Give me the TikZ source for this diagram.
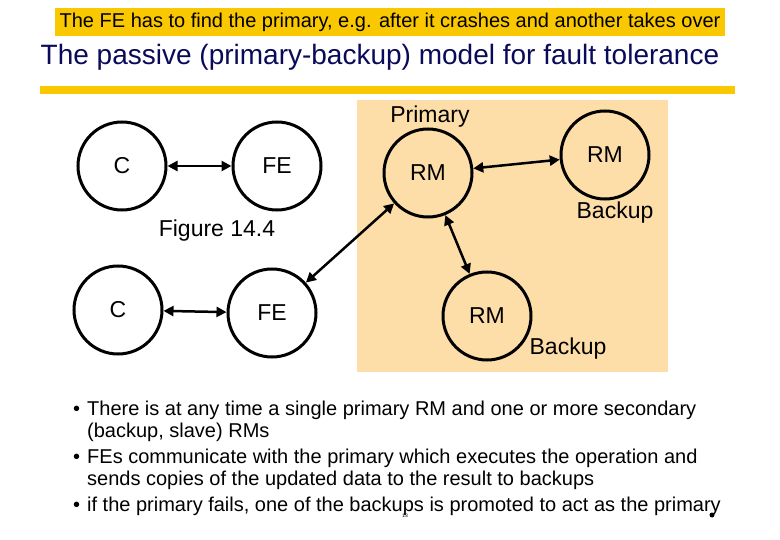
\documentclass[tikz,border=0pt]{standalone}
\usepackage{fontspec}
\setmainfont{Liberation Sans}
\usetikzlibrary{arrows.meta}
\definecolor{ylw}{RGB}{250,200,0}
\definecolor{pch}{RGB}{253,222,168}
\definecolor{navy}{RGB}{10,10,90}
\begin{document}
\begin{tikzpicture}[x=1pt,y=-1pt,
  proc/.style={circle,draw,line width=3pt,minimum size=88pt,inner sep=0pt,font=\fontsize{23}{26}\selectfont},
  lnk/.style={line width=2.5pt,{Triangle[length=10pt,width=10pt]}-{Triangle[length=10pt,width=10pt]}},
  lbl/.style={font=\fontsize{23}{26}\selectfont},
  txt/.style={font=\fontsize{20}{22}\selectfont,anchor=west,inner sep=0pt}]
\useasboundingbox (0,0) rectangle (780,540);
\node[fill=ylw,minimum width=670pt,minimum height=28pt,inner sep=0pt,font=\fontsize{20}{22}\selectfont] (top) at (390,22) {The FE has to find the primary, e.g. after it crashes and another takes over};
\node[font=\fontsize{28}{32}\selectfont,text=navy] (title) at (380,57) {The passive (primary-backup) model for fault tolerance};
\fill[ylw] (40,86) rectangle (735,94);
\fill[pch] (357,100) rectangle (668,372);
\node[proc] (c1) at (122,166) {C};
\node[proc] (fe1) at (277,166) {FE};
\node[proc] (rmp) at (428,173) {RM};
\node[proc] (rmr) at (605,155) {RM};
\node[proc] (c2) at (118,310) {C};
\node[proc] (fe2) at (272,313) {FE};
\node[proc] (rmb) at (487,316) {RM};
\node[lbl] (prim) at (430,117) {Primary};
\node[lbl] (bk1) at (615,213) {Backup};
\node[lbl] (bk2) at (568,349) {Backup};
\node[lbl] (fig) at (217,231) {Figure 14.4};
\draw[lnk] (c1) -- (fe1);
\draw[lnk] (c2) -- (fe2);
\draw[lnk] (fe2) -- (rmp);
\draw[lnk] (rmp) -- (rmr);
\draw[lnk] (rmp) -- (rmb);
\node[txt] (b1) at (73,410) {\textbullet\hspace{7pt}There is at any time a single primary RM and one or more secondary};
\node[txt] (b1b) at (87,432) {(backup, slave) RMs};
\node[txt] (b2) at (73,458) {\textbullet\hspace{7pt}FEs communicate with the primary which executes the operation and};
\node[txt] (b2b) at (87,480) {sends copies of the updated data to the result to backups};
\node[txt] (b3) at (73,506) {\textbullet\hspace{7pt}if the primary fails, one of the backups is promoted to act as the primary};
\node[font=\tiny,inner sep=0pt] (pg) at (405,516) {13};
\fill (712,515) circle (2.5pt);
\end{tikzpicture}
\end{document}
